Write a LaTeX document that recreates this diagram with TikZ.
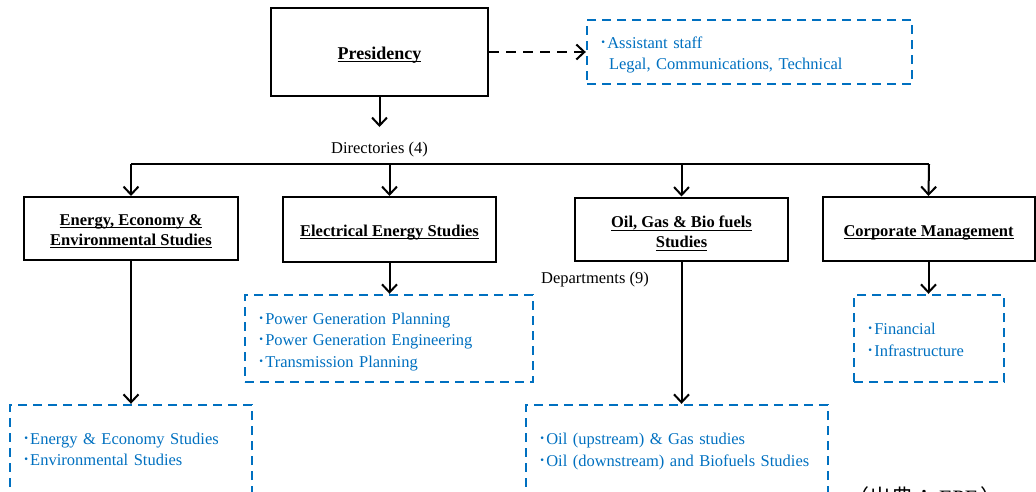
\documentclass[tikz,border=0pt]{standalone}
\usepackage{fontspec}
\setmainfont{Liberation Serif}
\newfontfamily\cjk{Noto Sans CJK JP}
\usetikzlibrary{arrows.meta}
\definecolor{deptblue}{HTML}{0070C0}
% small katakana middle dot used as list bullet
\newcommand{\dotitem}{\smash{\cjk ･}}
% invisible strut that lowers the text block inside its box
\newcommand{\dropstrut}[1][18pt]{\rule{0pt}{#1}}
% underline drawn close to the baseline, adding no depth
\newcommand{\ulin}[1]{\setbox0\hbox{#1}\leavevmode\rlap{\smash{\vrule height -1.6pt depth 2.8pt width \wd0}}\box0}

\begin{document}
\begin{tikzpicture}[x=1pt,y=-1pt,
  unitbox/.style={draw, line width=2pt, inner sep=0pt, align=center,
    font=\fontsize{16.5}{20}\selectfont\bfseries},
  deptbox/.style={draw=deptblue, text=deptblue, line width=2.4pt,
    dash pattern=on 9pt off 6pt, inner xsep=12pt, inner ysep=0pt, align=left,
    font=\fontsize{16.5}{21.5}\selectfont},
  plainlabel/.style={inner sep=0pt, font=\fontsize{16.5}{20}\selectfont},
  link/.style={line width=2pt, -{Straight Barb[length=8pt,width=15pt]}},
  bus/.style={line width=2pt}
]
\useasboundingbox (0,0) rectangle (1036,491);
\clip (0,0) rectangle (1036,491);

% top level
\node[unitbox, minimum width=217pt, minimum height=88pt,
  font=\fontsize{18}{20}\selectfont\bfseries] (pres) at (379.5,52) {\dropstrut\ulin{Presidency}};
\node[deptbox, text width=301pt, minimum height=64pt] (asst) at (749.5,52)
  {\dropstrut\dotitem Assistant staff\\\hspace*{10pt}Legal, Communications, Technical};

\coordinate (dirtip) at (379.5,127);
\node[plainlabel] (dirlbl) at (379.5,150) {Directories (4)};

% directories
\node[unitbox, minimum width=214pt, minimum height=63pt] (eee) at (131,228.5)
  {\dropstrut[14pt]\ulin{Energy, Economy \&}\\\ulin{Environmental Studies}};
\node[unitbox, minimum width=213pt, minimum height=65pt] (ees) at (389.5,229.5)
  {\dropstrut\ulin{Electrical Energy Studies}};
\node[unitbox, minimum width=213pt, minimum height=63pt] (ogb) at (681.5,229)
  {\dropstrut\ulin{Oil, Gas \& Bio fuels}\\\ulin{Studies}};
\node[unitbox, minimum width=212pt, minimum height=64pt] (cm) at (928.5,229)
  {\dropstrut\ulin{Corporate Management}};

\coordinate (busL) at (131,164);
\coordinate (busR) at (929,164);

\node[plainlabel] (deplbl) at (595,280) {Departments (9)};

% departments
\node[deptbox, text width=264pt, minimum height=87pt] (eesD) at (389,338.5)
  {\dropstrut\dotitem Power Generation Planning\\\dotitem Power Generation Engineering\\\dotitem Transmission Planning};
\node[deptbox, text width=126pt, minimum height=87pt] (cmD) at (929,338.5)
  {\dropstrut[14pt]\dotitem Financial\\\dotitem Infrastructure};
\node[deptbox, text width=218pt, minimum height=88pt] (eeeD) at (131,449)
  {\dropstrut[12pt]\dotitem Energy \& Economy Studies\\\dotitem Environmental Studies};
\node[deptbox, text width=278pt, minimum height=88pt] (ogbD) at (677,449)
  {\dropstrut[16pt]\dotitem Oil (upstream) \& Gas studies\\\dotitem Oil (downstream) and Biofuels Studies};

% source note along the lower edge
\node[anchor=base west, inner sep=0pt, font=\fontsize{22}{22}\selectfont] (src) at (847,505.5)
  {{\cjk （出典：}\hspace{4pt}EPE\hspace{2pt}{\cjk ）}};

% connectors
\draw[link, dash pattern=on 10pt off 7pt] (pres.east) -- (asst.west);
\draw[link] (pres.south) -- (dirtip);
\draw[bus] (busL) -- (busR);
\draw[link] (busL) -- (eee.north);
\draw[link] (ees.north |- busL) -- (ees.north);
\draw[link] (ogb.north |- busL) -- (ogb.north);
\draw[link] (busR) -- (cm.north);

\draw[link] (eee.south) -- (eee.south |- eeeD.north);
\draw[link] (ees.south) -- (ees.south |- eesD.north);
\draw[link] (ogb.south) -- (ogb.south |- ogbD.north);
\draw[link] (cm.south) -- (cm.south |- cmD.north);
\end{tikzpicture}
\end{document}
